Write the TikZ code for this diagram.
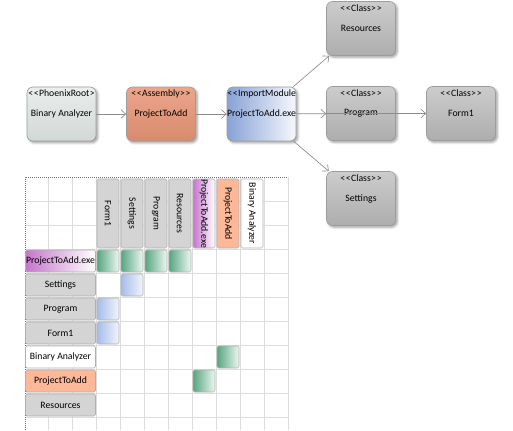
\documentclass[tikz,border=0pt]{standalone}
\usepackage{fontspec}
\setmainfont{Carlito}
\usetikzlibrary{arrows.meta,shadows.blur}
\definecolor{boxborder}{HTML}{9C9C9C}
\definecolor{arrowgray}{HTML}{8C8C8C}
\definecolor{gridc}{HTML}{DCDCDC}
\definecolor{dashc}{HTML}{707070}
\definecolor{cellborder}{HTML}{B0B0B0}
\definecolor{grayfill}{HTML}{D4D4D4}
\definecolor{salmon}{HTML}{FCB898}
\definecolor{purp}{HTML}{C676CC}
\definecolor{greenc}{HTML}{56A57F}
\definecolor{greenw}{HTML}{EEF7F2}
\definecolor{bluec}{HTML}{A6BCE8}
\definecolor{bluew}{HTML}{F2F5FC}
\newcommand{\ltlt}{\textless\kern0.5pt\textless\kern0.3pt}
\newcommand{\gtgt}{\kern0.3pt\textgreater\kern0.5pt\textgreater}
\newcommand{\stereo}[1]{\ltlt #1\gtgt}
\begin{document}
\begin{tikzpicture}[x=0.75pt,y=-0.75pt,
  font=\fontsize{7.3pt}{9pt}\selectfont,
  box/.style={draw=boxborder, line width=0.5pt, rounded corners=4.5pt,
    minimum width=51.75pt, minimum height=40.5pt, inner sep=0pt,
    blur shadow={shadow xshift=1.3pt, shadow yshift=-1.3pt, shadow opacity=40,
      shadow blur steps=5, shadow blur radius=1.8pt}},
  classbox/.style={box, top color=black!20, bottom color=black!32},
  rootbox/.style={box, top color={rgb,255:red,234;green,238;blue,236}, bottom color={rgb,255:red,210;green,216;blue,214}},
  asmbox/.style={box, top color={rgb,255:red,236;green,166;blue,140}, bottom color={rgb,255:red,216;green,138;blue,110}},
  modbox/.style={box, left color={rgb,255:red,136;green,162;blue,214}, right color={rgb,255:red,246;green,248;blue,253}},
  stl/.style={anchor=north, inner sep=0pt, yshift=-2.4pt},
  arr/.style={draw=arrowgray, line width=0.5pt, -{Straight Barb[length=3.6pt,width=6.5pt,line width=0.5pt]}},
  gridline/.style={draw=gridc, line width=0.5pt},
  dashb/.style={draw=dashc, line width=0.5pt, dash pattern=on 0.75pt off 0.75pt},
  cell/.style={draw=cellborder, line width=0.4pt, rounded corners=1.2pt,
    minimum width=16.5pt, minimum height=16.5pt, inner sep=0pt},
  rowlab/.style={cell, minimum width=52.5pt},
  colhead/.style={cell, rotate=-90, minimum width=51.75pt},
  gcell/.style={cell, left color=greenc, right color=greenw},
  bcell/.style={cell, left color=bluec, right color=bluew},
  ]
\useasboundingbox (0,0) rectangle (513,430);

% ---------- top diagram ----------
\node[rootbox, label={[stl]north:\ltlt PhoenixRoot\kern0.3pt\textgreater}] (ba) at (61.5,114) {Binary Analyzer};
\node[asmbox, label={[stl]north:\stereo{Assembly}}] (pta) at (161,114) {ProjectToAdd};
\node[modbox, label={[stl, anchor=north west, xshift=0.3pt]north west:\ltlt ImportModule}] (exe) at (261.5,114) {ProjectToAdd.exe};
\node[classbox, label={[stl]north:\stereo{Class}}] (res) at (361,28.5) {Resources};
\node[classbox, label={[stl]north:\stereo{Class}}] (prog) at (361,113.5) {Program};
\node[classbox, label={[stl]north:\stereo{Class}}] (form) at (461,113.5) {Form1};
\node[classbox, label={[stl]north:\stereo{Class}}] (set) at (361,198.5) {Settings};

\draw[arr] (ba) -- (pta);
\draw[arr] (pta) -- (exe);
\draw[arr] (exe) -- (res);
\draw[arr] (exe) -- (prog);
\draw[arr] (exe) -- (set);
\draw[arr] (prog.west) -- (form);

% ---------- matrix ----------
\foreach \x in {48,72,...,264} \draw[gridline] (\x,177) -- (\x,430);
\foreach \y in {201,225,...,417} \draw[gridline] (25,\y) -- (288,\y);
\draw[gridline] (288,177) -- (288,430);
\draw[dashb] (25,430) -- (25,177) -- (288,177);

% column headers
\node[colhead, fill=grayfill] (h0) at (108,213.5) {Form1};
\node[colhead, fill=grayfill] (h1) at (132,213.5) {Settings};
\node[colhead, fill=grayfill] (h2) at (156,213.5) {Program};
\node[colhead, fill=grayfill] (h3) at (180,213.5) {Resources};
\node[colhead, left color=purp, right color=white] (h4) at (204,213.5) {ProjectToAdd.exe};
\node[colhead, fill=salmon] (h5) at (228,213.5) {ProjectToAdd};
\node[colhead, fill=white] (h6) at (252,213.5) {Binary Analyzer};

% row labels
\node[rowlab, left color=purp, right color=white] (r0) at (60.5,261) {ProjectToAdd.exe};
\node[rowlab, fill=grayfill] (r1) at (60.5,285) {Settings};
\node[rowlab, fill=grayfill] (r2) at (60.5,309) {Program};
\node[rowlab, fill=grayfill] (r3) at (60.5,333) {Form1};
\node[rowlab, fill=white] (r4) at (60.5,357) {Binary Analyzer};
\node[rowlab, fill=salmon] (r5) at (60.5,381) {ProjectToAdd};
\node[rowlab, fill=grayfill] (r6) at (60.5,405) {Resources};

% dependency cells
\node[gcell] (c00) at (108,261) {};
\node[gcell] (c01) at (132,261) {};
\node[gcell] (c02) at (156,261) {};
\node[gcell] (c03) at (180,261) {};
\node[bcell] (c11) at (132,285) {};
\node[bcell] (c20) at (108,309) {};
\node[bcell] (c30) at (108,333) {};
\node[gcell] (c45) at (228,357) {};
\node[gcell] (c54) at (204,381) {};
\end{tikzpicture}
\end{document}
